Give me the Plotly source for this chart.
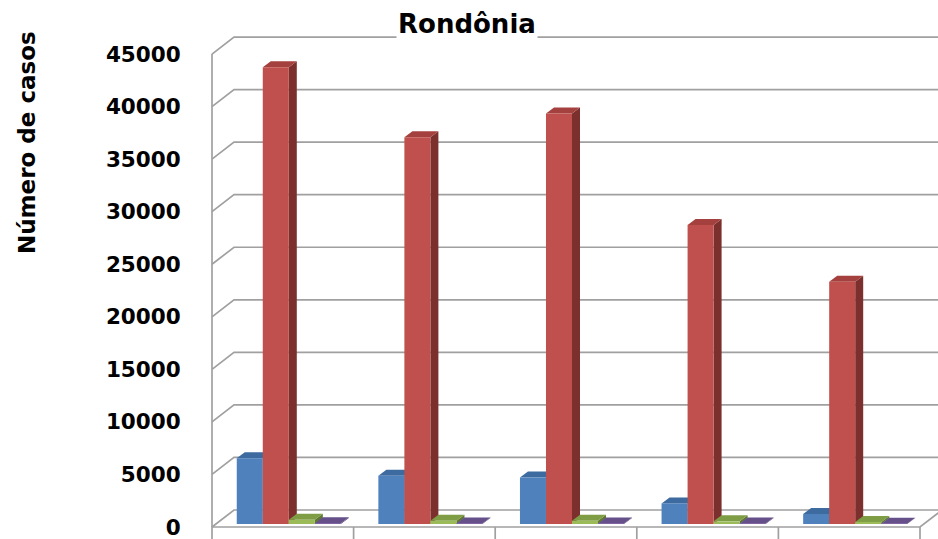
import plotly.graph_objects as go

# ---- data -------------------------------------------------------------
categories = ["1", "2", "3", "4", "5"]
series_names = ["Série 1", "Série 2", "Série 3", "Série 4"]
serie_1 = [6250, 4580, 4430, 1960, 950]
serie_2 = [43450, 36800, 39050, 28450, 23050]
serie_3 = [400, 300, 300, 250, 200]
serie_4 = [60, 50, 50, 40, 30]
y_ticks = [0, 5000, 10000, 15000, 20000, 25000, 30000, 35000, 40000, 45000]
chart_title = "Rondônia"
y_title = "Número de casos"

series = [serie_1, serie_2, serie_3, serie_4]

# ---- styling ----------------------------------------------------------
front_colors = ["#4F81BD", "#C0504D", "#9BBB59", "#8064A2"]
top_colors = ["#3D6A9F", "#A4403D", "#7E9D44", "#65508A"]
side_colors = ["#2E5382", "#7C302E", "#5F7832", "#4C3C6A"]
grid_color = "#A0A0A0"
font_family = "DejaVu Sans"

# ---- geometry (pixels) ------------------------------------------------
FIG_W, FIG_H = 938, 539
PLOT_L, PLOT_R = 206, 938
PLOT_T, PLOT_B = 28, 539
FRONT_L, FRONT_R = 212, 920      # front edge of the floor
FLOOR_Y = 527                    # pixel row of value 0 on the front plane
PX_PER_CASE = 52.55 / 5000
WALL_DX, WALL_DY = 22, 17        # depth of floor and walls
BAR_SHIFT_X, BAR_SHIFT_Y = 6, 3  # bars sit a little behind the front edge
BAR_DX, BAR_DY = 8, 6            # depth of each bar
BARGAP = 0.265

n = len(categories)
cat_px = (FRONT_R - FRONT_L) / n


def ux(px):
    return px / cat_px


def uy(px):
    return px / PX_PER_CASE


def paper_x(px):
    return (px - PLOT_L) / (PLOT_R - PLOT_L)


def paper_y(py):
    return (PLOT_B - py) / (PLOT_B - PLOT_T)


x_range = [-0.5 - ux(FRONT_L - PLOT_L), n - 0.5 + ux(PLOT_R - FRONT_R)]
y_range = [-uy(PLOT_B - FLOOR_Y), uy(FLOOR_Y - PLOT_T)]

fig = go.Figure()

# ---- front faces of the columns ---------------------------------------
for name, vals, col in zip(series_names, series, front_colors):
    fig.add_trace(go.Bar(
        x=list(range(n)), y=vals, name=name,
        marker=dict(color=col, line=dict(width=0)),
        xaxis="x2", yaxis="y2",
        customdata=categories,
        hovertemplate="%{customdata}: %{y}<extra>" + name + "</extra>",
    ))

shapes = []

# ---- walls and floor --------------------------------------------------
wl = -0.5
wdx, wdy = ux(WALL_DX), uy(WALL_DY)
for v in y_ticks:
    shapes.append(dict(
        type="path", xref="x", yref="y",
        path=f"M {wl},{v} L {wl + wdx},{v + wdy} L {x_range[1] + 1},{v + wdy}",
        line=dict(color=grid_color, width=1.7), layer="below",
    ))
# front-left edge of the side wall
shapes.append(dict(type="line", xref="x", yref="y", x0=wl, x1=wl,
                   y0=0, y1=y_ticks[-1],
                   line=dict(color=grid_color, width=1.7), layer="below"))
# front edge of the floor and its right corner
shapes.append(dict(
    type="path", xref="x", yref="y",
    path=f"M {wl},0 L {n - 0.5},0 L {n - 0.5 + wdx},{wdy}",
    line=dict(color=grid_color, width=1.7), layer="below",
))
# category tick marks below the floor
for k in range(n + 1):
    shapes.append(dict(type="line", xref="x", yref="y",
                       x0=k - 0.5, x1=k - 0.5, y0=0, y1=y_range[0],
                       line=dict(color=grid_color, width=1.7), layer="below"))

# ---- depth faces of the columns (top and right side) ------------------
w = (1 - BARGAP) / len(series)
bdx, bdy = ux(BAR_DX), uy(BAR_DY)
for i in range(n):
    for j, vals in enumerate(series):
        v = vals[i]
        left = i - (1 - BARGAP) / 2 + j * w
        right = left + w
        shapes.append(dict(
            type="path", xref="x2", yref="y2",
            path=(f"M {right},0 L {right + bdx},{bdy} "
                  f"L {right + bdx},{v + bdy} L {right},{v} Z"),
            fillcolor=side_colors[j], line=dict(width=0), layer="below",
        ))
        shapes.append(dict(
            type="path", xref="x2", yref="y2",
            path=(f"M {left},{v} L {left + bdx},{v + bdy} "
                  f"L {right + bdx},{v + bdy} L {right},{v} Z"),
            fillcolor=top_colors[j], line=dict(width=0), layer="below",
        ))

# ---- text -------------------------------------------------------------
annotations = [
    dict(text=chart_title, xref="paper", yref="paper",
         x=paper_x(467), y=paper_y(24), xanchor="center", yanchor="middle",
         showarrow=False, bgcolor="white", borderpad=1,
         font=dict(family=font_family, size=26, color="black", weight="bold")),
    dict(text=y_title, xref="paper", yref="paper",
         x=paper_x(27), y=paper_y(143), xanchor="center", yanchor="middle",
         textangle=-90, showarrow=False,
         font=dict(family=font_family, size=23, color="black", weight="bold")),
]

fig.update_layout(
    width=FIG_W, height=FIG_H,
    margin=dict(l=PLOT_L, r=FIG_W - PLOT_R, t=PLOT_T, b=FIG_H - PLOT_B,
                autoexpand=False),
    paper_bgcolor="white", plot_bgcolor="white",
    barmode="group", bargap=BARGAP, bargroupgap=0,
    showlegend=False,
    shapes=shapes, annotations=annotations,
    xaxis=dict(range=x_range, showgrid=False, zeroline=False,
               showticklabels=False, ticks="", showline=False, fixedrange=True),
    yaxis=dict(range=y_range, tickvals=y_ticks,
               ticktext=[str(t) for t in y_ticks],
               showgrid=False, zeroline=False, showline=False,
               ticks="outside", ticklen=20, tickcolor="rgba(0,0,0,0)",
               ticklabeloverflow="allow",
               tickfont=dict(family=font_family, size=21.5, color="black",
                             weight="bold"),
               fixedrange=True),
    xaxis2=dict(overlaying="x", range=[x_range[0] - ux(BAR_SHIFT_X),
                                       x_range[1] - ux(BAR_SHIFT_X)],
                visible=False, fixedrange=True),
    yaxis2=dict(overlaying="y", range=[y_range[0] - uy(BAR_SHIFT_Y),
                                       y_range[1] - uy(BAR_SHIFT_Y)],
                visible=False, fixedrange=True),
)

fig.write_html("out.html")
